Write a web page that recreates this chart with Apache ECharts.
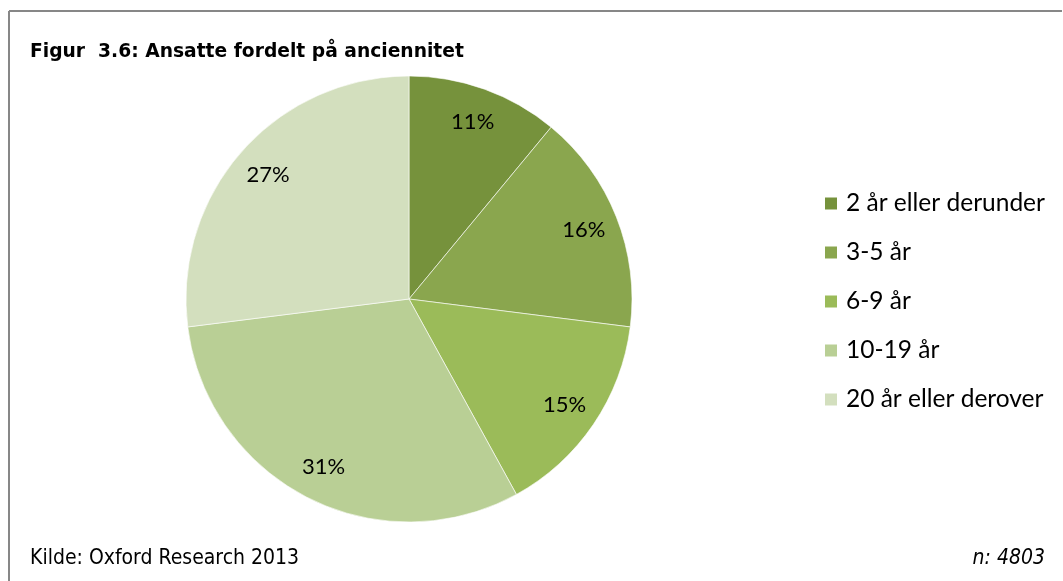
<!DOCTYPE html>
<html>
<head>
<meta charset="utf-8">
<script src="https://cdn.jsdelivr.net/npm/echarts@6/dist/echarts.min.js"></script>
<style>
html,body{margin:0;padding:0;background:#fff;}
#chart{width:1063px;height:581px;}
</style>
</head>
<body>
<div id="chart"></div>
<script>
const categories = ['2 år eller derunder', '3-5 år', '6-9 år', '10-19 år', '20 år eller derover'];
const shares = [11, 16, 15, 31, 27];
const colors = ['#76923C', '#8AA64E', '#9BBB59', '#B9CF95', '#D3DFBE'];
const titleText = 'Figur  3.6: Ansatte fordelt på anciennitet';
const sourceText = 'Kilde: Oxford Research 2013';
const nText = 'n: 4803';

const pieData = categories.map((name, i) => ({ name: name, value: shares[i] }));
const center = [409, 299];
const R = 223;

const chart = echarts.init(document.getElementById('chart'), null, { renderer: 'canvas' });
chart.setOption({
  animation: false,
  color: colors,
  title: {
    text: titleText,
    left: 25,
    top: 38,
    textStyle: { fontFamily: 'DejaVu Sans', fontWeight: 'bold', fontSize: 18.7, color: '#000' }
  },
  legend: {
    orient: 'vertical',
    left: 823,
    top: 191,
    padding: 0,
    itemWidth: 14,
    itemHeight: 14,
    itemGap: 24,
    icon: 'rect',
    data: categories,
    textStyle: { fontFamily: 'Lato', fontSize: 24.5, color: '#000', lineHeight: 24, padding: [0, 0, 0, 3] }
  },
  graphic: [
    { type: 'line', shape: { x1: 9, y1: 11, x2: 1062, y2: 11 }, style: { stroke: '#878787', lineWidth: 2 } },
    { type: 'line', shape: { x1: 9, y1: 11, x2: 9, y2: 581 }, style: { stroke: '#878787', lineWidth: 2 } },
    { type: 'text', left: 30, top: 548, style: { text: sourceText, font: '21px "Liberation Sans Narrow", "DejaVu Sans Condensed", sans-serif', fill: '#000' } },
    { type: 'text', right: 18, top: 548, style: { text: nText, font: 'italic 21px "Liberation Sans Narrow", "DejaVu Sans Condensed", sans-serif', fill: '#000' } }
  ],
  series: [
    {
      type: 'pie',
      center: center,
      radius: [0, R],
      startAngle: 90,
      clockwise: true,
      silent: true,
      label: { show: false },
      labelLine: { show: false },
      itemStyle: { borderColor: '#ffffff', borderWidth: 0.6 },
      data: pieData
    },
    {
      type: 'pie',
      center: center,
      radius: [Math.round(R * 0.66), R],
      startAngle: 90,
      clockwise: true,
      silent: true,
      legendHoverLink: false,
      itemStyle: { color: 'rgba(0,0,0,0)' },
      label: {
        show: true,
        position: 'inside',
        formatter: '{c}%',
        fontFamily: 'Lato',
        fontSize: 22,
        color: '#000'
      },
      labelLine: { show: false },
      data: pieData
    }
  ]
});
</script>
</body>
</html>
